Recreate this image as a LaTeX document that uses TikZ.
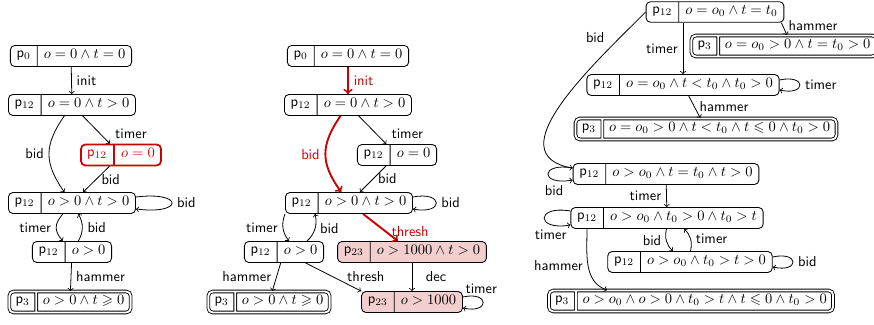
\documentclass[tikz,border=0pt]{standalone}
\usepackage{amssymb}
\usetikzlibrary{shapes.multipart,calc}
\definecolor{myred}{RGB}{204,0,0}
\definecolor{mypink}{RGB}{242,206,206}
\newcommand{\sst}{\rule[-3pt]{0pt}{8.5pt}}
\newcommand{\lp}[2]{\sst$\mathsf{p}_{#1}$\nodepart{two}\sst$#2$}
\tikzset{
  st/.style={rectangle split, rectangle split horizontal, rectangle split parts=2,
    draw, rounded corners=3pt, inner xsep=4.3pt, inner ysep=2.5pt, line width=0.6pt},
  fin/.style={st, double, double distance=1.3pt},
  hot/.style={st, draw=myred, text=myred, line width=1.2pt},
  pinkfill/.style={fill=mypink},
  lab/.style={font=\sffamily},
  tr/.style={->, line width=0.55pt},
  rtr/.style={->, draw=myred, line width=1.3pt},
  rlab/.style={font=\sffamily, text=myred},
}
\begin{document}
\begin{tikzpicture}[x=0.69pt,y=-0.69pt]
\useasboundingbox (0,0) rectangle (874,325);
% diagram 1
\node[st] (a0) at (71,56) {\lp{0}{o=0\wedge t=0}};
\node[st] (a1) at (72,105) {\lp{12}{o=0\wedge t>0}};
\node[hot] (a2) at (121,155) {\lp{12}{o=0}};
\node[st] (a3) at (72,203) {\lp{12}{o>0\wedge t>0}};
\node[st] (a4) at (72,252) {\lp{12}{o>0}};
\node[fin] (a5) at (70,302) {\lp{3}{o>0\wedge t\geqslant 0}};
\draw[tr] (a0) -- node[lab,right]{init} (a1);
\draw[tr] (a1) to[bend right=35, looseness=1.2] node[lab,left]{bid} (a3);
\draw[tr] (a1) -- node[lab,pos=1,above right]{timer} (a2);
\draw[tr] (a2) -- node[lab,right]{bid} (a3);
\draw[tr] ($(a3.east)+(0,-6)$) .. controls +(48,-6) and +(48,6) .. ($(a3.east)+(0,6)$) node[lab,pos=0.5,right]{bid};
\draw[tr] (a3) to[bend right=40, looseness=1.3] node[lab,left]{timer} (a4);
\draw[tr] (a4) to[bend right=30] node[lab,right]{bid} (a3);
\draw[tr] (a4) -- node[lab,right]{hammer} (a5);
% diagram 2
\node[st] (b0) at (348,56) {\lp{0}{o=0\wedge t=0}};
\node[st] (b1) at (348,105) {\lp{12}{o=0\wedge t>0}};
\node[st] (b2) at (397,155) {\lp{12}{o=0}};
\node[st] (b3) at (349,203) {\lp{12}{o>0\wedge t>0}};
\node[st] (b4) at (284,252) {\lp{12}{o>0}};
\node[st,pinkfill] (b5) at (412,252) {\lp{23}{o>1000\wedge t>0}};
\node[fin] (b6) at (269,302) {\lp{3}{o>0\wedge t\geqslant 0}};
\node[st,pinkfill] (b7) at (412,302) {\lp{23}{o>1000}};
\draw[rtr] (b0) -- node[rlab,right]{init} (b1);
\draw[rtr] (b1) to[bend right=35, looseness=1.2] node[rlab,left]{bid} (b3);
\draw[tr] (b1) -- node[lab,pos=1,above right]{timer} (b2);
\draw[tr] (b2) -- node[lab,right]{bid} (b3);
\draw[tr] ($(b3.east)+(0,-6)$) .. controls +(31,-6) and +(31,6) .. ($(b3.east)+(0,6)$) node[lab,pos=0.5,right]{bid};
\draw[tr] (b3.south west) to[bend right=30] node[lab,left]{timer} ($(b4.north)+(5,0)$);
\draw[tr] ($(b4.north)+(23,0)$) to[bend right=30] node[lab,right]{bid} ($(b3.south)+(-34,0)$);
\draw[rtr] (b3) -- node[rlab,pos=0.65,right]{thresh} (b5);
\draw[tr] (b4) -- node[lab,left]{hammer} (b6);
\draw[tr] (b4) -- node[lab,pos=0.85,anchor=south,xshift=9pt]{thresh} (b7.north west);
\draw[tr] (b5) -- node[lab,right,xshift=6pt]{dec} (b7);
\draw[tr] ($(b7.east)+(0,-5)$) .. controls +(27,-6) and +(27,6) .. ($(b7.east)+(0,6)$) node[lab,pos=0.35,above]{timer};
% diagram 3
\node[st] (c0) at (715,12) {\lp{12}{o=o_0\wedge t=t_0}};
\node[fin] (c1) at (784,46) {\lp{3}{o=o_0>0\wedge t=t_0>0}};
\node[st] (c2) at (683,85) {\lp{12}{o=o_0\wedge t<t_0\wedge t_0>0}};
\node[fin] (c3) at (706,129) {\lp{3}{o=o_0>0\wedge t<t_0\wedge t\leqslant 0\wedge t_0>0}};
\node[st] (c4) at (666,174) {\lp{12}{o>o_0\wedge t=t_0\wedge t>0}};
\node[st] (c5) at (667,218) {\lp{12}{o>o_0\wedge t_0>0\wedge t_0>t}};
\node[st] (c6) at (690,262) {\lp{12}{o>o_0\wedge t_0>t>0}};
\node[fin] (c7) at (691,301) {\lp{3}{o>o_0\wedge o>0\wedge t_0>t\wedge t\leqslant 0\wedge t_0>0}};
\draw[tr] ($(c0.south east)+(-3,0)$) -- node[lab,pos=0.85,anchor=south west,inner sep=1.5pt]{hammer} ($(c1.north)+(3,0)$);
\draw[tr] (c2.north |- c0.south) -- node[lab,left]{timer} (c2.north);
\draw[tr] (c0.west) to[out=225,in=170,looseness=1.15] node[lab,pos=0.2,above left]{bid} ($(c4.north west)+(0,5)$);
\draw[tr] ($(c2.east)+(0,-5)$) .. controls +(27,-6) and +(27,6) .. ($(c2.east)+(0,5)$) node[lab,pos=0.5,right]{timer};
\draw[tr] (c2) -- node[lab,right]{hammer} (c3);
\draw[tr] ($(c4.west)+(0,-6)$) .. controls +(-33,-6) and +(-33,6) .. ($(c4.west)+(0,6)$) node[lab,pos=0.75,below]{bid};
\draw[tr] (c4) -- node[lab,left]{timer} (c5);
\draw[tr] ($(c5.west)+(0,-7)$) .. controls +(-35,-6) and +(-35,6) .. ($(c5.west)+(0,7)$) node[lab,pos=0.75,below]{timer};
\draw[tr] (c5) to[bend right=30] node[lab,left]{bid} (c6);
\draw[tr] (c6) to[bend right=30] node[lab,right]{timer} (c5);
\draw[tr] ($(c6.east)+(0,-5)$) .. controls +(27,-6) and +(27,6) .. ($(c6.east)+(0,5)$) node[lab,pos=0.5,right]{bid};
\draw[tr] (c5.one south) to[out=-90,in=160] node[lab,left]{hammer} ($(c7.north)+(-84,0)$);
\end{tikzpicture}
\end{document}
